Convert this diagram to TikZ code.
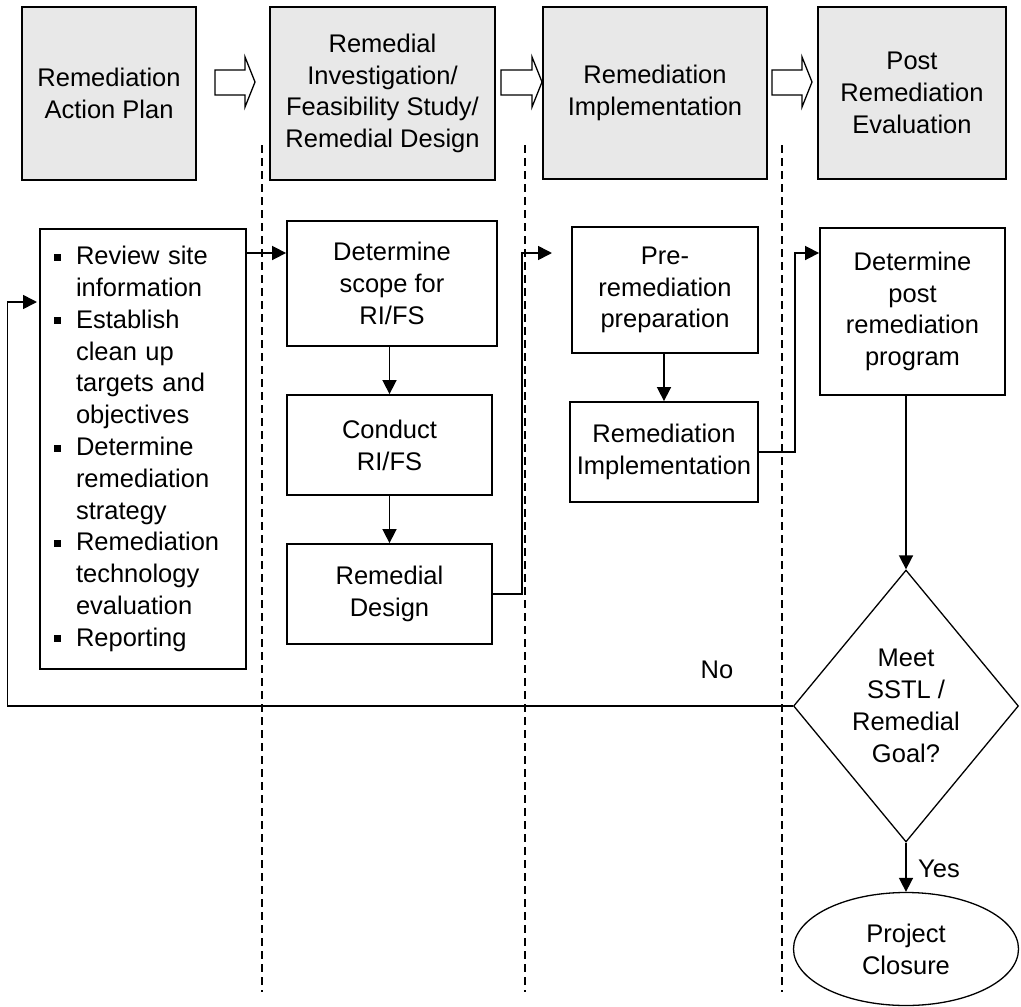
\documentclass[tikz,border=0pt]{standalone}
\usepackage{fontspec}
\setmainfont{Liberation Sans}
\usetikzlibrary{arrows.meta,shapes.geometric}
\definecolor{boxgray}{RGB}{232,232,232}
\newcommand\bitem{\makebox[22pt][l]{\raisebox{4pt}{\rule{7pt}{7pt}}}}
\newcommand\bcont{\hspace*{22pt}}
\begin{document}
\begin{tikzpicture}[x=1pt,y=-1pt,
  font=\fontsize{25.5pt}{31.8pt}\selectfont,
  phase/.style={draw, line width=1.8pt, fill=boxgray, align=center, inner sep=0pt},
  stepbox/.style={draw, line width=1.8pt, fill=white, align=center, inner sep=0pt},
  blockarrow/.style={draw, line width=1.3pt, fill=white, line join=miter},
  conn/.style={line width=1.6pt, -{Triangle[length=14pt,width=14pt]}},
  lane/.style={line width=1.2pt, dash pattern=on 8pt off 5pt},
  lbl/.style={inner sep=0pt}]

\useasboundingbox (0,0) rectangle (1021,1007);

% phase headers
\node[phase, minimum width=174pt, minimum height=173pt] (p1) at (109,93.5) {Remediation\\Action Plan};
\node[phase, minimum width=225pt, minimum height=173pt] (p2) at (382.5,93.5) {Remedial\\Investigation/\\Feasibility Study/\\Remedial Design};
\node[phase, minimum width=224pt, minimum height=172pt] (p3) at (655,93) {Remediation\\Implementation};
\node[phase, minimum width=188pt, minimum height=172pt] (p4) at (912,93) {Post\\Remediation\\Evaluation};

% block arrows
\draw[blockarrow] (215,70) -- (245,70) -- (245,57) -- (255,82) -- (245,107) -- (245,95) -- (215,95) -- cycle;
\draw[blockarrow] (501,70) -- (532,70) -- (532,57) -- (542,82) -- (532,107) -- (532,95) -- (501,95) -- cycle;
\draw[blockarrow] (772,70) -- (802,70) -- (802,57) -- (812,82) -- (802,107) -- (802,95) -- (772,95) -- cycle;

% lane separators
\draw[lane] (262,145) -- (262,992);
\draw[lane] (525,145) -- (525,992);
\draw[lane] (782,145) -- (782,992);

% process boxes
\node[stepbox, align=left, text width=178pt, minimum width=206pt, minimum height=440pt] (plan) at (143,449) {%
\bitem Review site\\
\bcont information\\
\bitem Establish\\
\bcont clean up\\
\bcont targets and\\
\bcont objectives\\
\bitem Determine\\
\bcont remediation\\
\bcont strategy\\
\bitem Remediation\\
\bcont technology\\
\bcont evaluation\\
\bitem Reporting};
\node[stepbox, minimum width=210pt, minimum height=125pt] (scope) at (392,283.5) {Determine\\scope for\\RI/FS};
\node[stepbox, minimum width=205pt, minimum height=100pt] (conduct) at (389.5,445) {Conduct\\RI/FS};
\node[stepbox, minimum width=205pt, minimum height=100pt] (rd) at (389.5,594) {Remedial\\Design};
\node[stepbox, minimum width=186pt, minimum height=126pt] (pre) at (665,290) {Pre-\\remediation\\preparation};
\node[stepbox, minimum width=188pt, minimum height=100pt] (rimpl) at (664,452) {Remediation\\Implementation};
\node[stepbox, minimum width=185pt, minimum height=167pt] (post) at (912.5,311.5) {Determine\\post\\remediation\\program};
\node[draw, line width=1.3pt, diamond, aspect=1, inner sep=0pt, align=center, minimum width=225pt, minimum height=272pt] (dia) at (906,706) {Meet\\SSTL /\\Remedial\\Goal?};
\node[draw, line width=1.3pt, ellipse, inner sep=0pt, align=center, minimum width=225pt, minimum height=113pt] (close) at (906,949) {Project\\Closure};

% connectors
\coordinate (r) at (0,253);
\coordinate (preIn) at (552,253);
\coordinate (loopIn) at (37,302);
\draw[conn] (plan.east |- r) -- (scope.west |- r);
\draw[conn] (conduct.north |- scope.south) -- (conduct.north);
\draw[conn] (rd.north |- conduct.south) -- (rd.north);
\draw[conn] (rd.east) -- ++(29,0) |- (preIn);
\draw[conn] (rimpl.north |- pre.south) -- (rimpl.north);
\draw[conn] (rimpl.east) -- ++(36,0) |- (post.west |- r);
\draw[conn] (dia.north |- post.south) -- (dia.north);
\draw[conn] (dia.west) -- ++(-785.5,0) |- (loopIn);
\draw[conn] (dia.south) -- (close.north);

% labels
\node[lbl, anchor=base] (no) at (717,678) {No};
\node[lbl, anchor=base west] (yes) at (918,877) {Yes};
\end{tikzpicture}
\end{document}
